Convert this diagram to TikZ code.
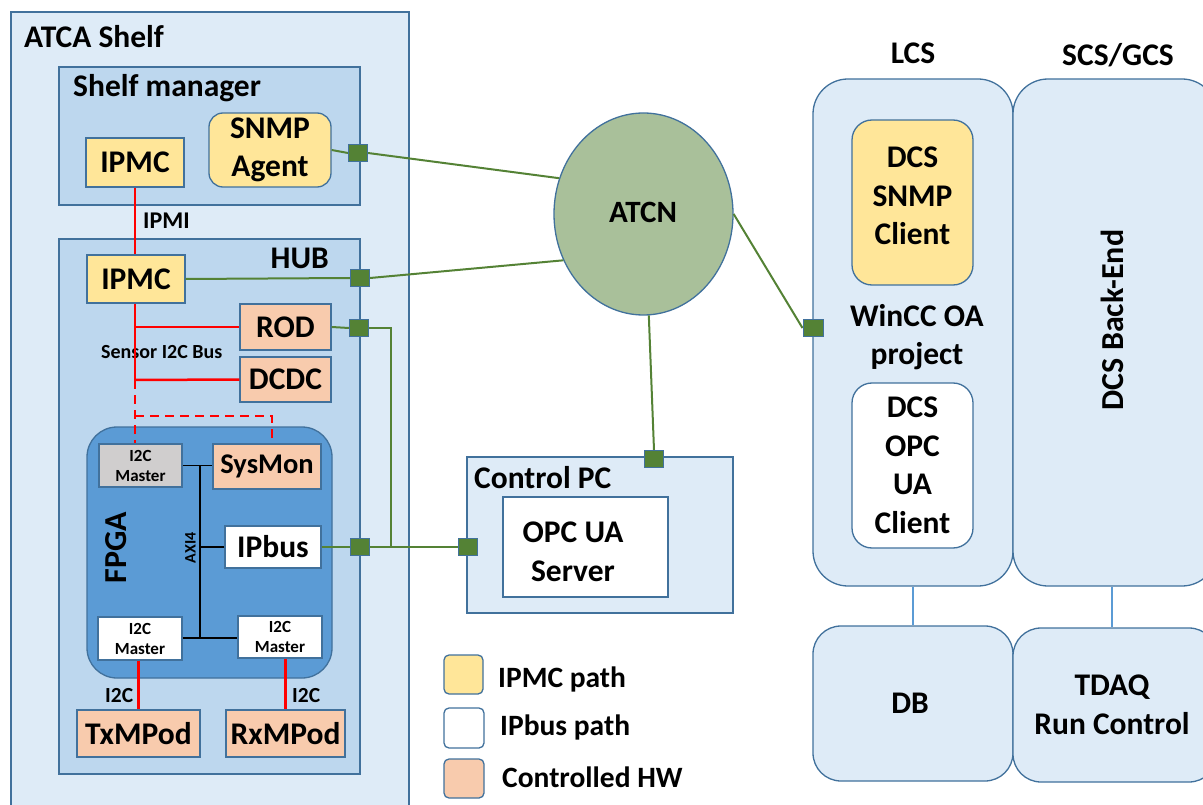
\documentclass[tikz,border=0pt]{standalone}
\usepackage{fontspec}
\setmainfont{Carlito}
\usetikzlibrary{shapes.geometric}
\definecolor{fillA}{HTML}{DEEBF7}
\definecolor{fillB}{HTML}{BDD7EE}
\definecolor{bord}{HTML}{41719C}
\definecolor{ylw}{HTML}{FFE699}
\definecolor{peach}{HTML}{F8CBAD}
\definecolor{fpgablue}{HTML}{5B9BD5}
\definecolor{atcngreen}{HTML}{A9C09A}
\definecolor{netgreen}{HTML}{548235}
\definecolor{greybox}{HTML}{D0CECE}
\definecolor{lightline}{HTML}{5B9BD5}
\pgfdeclarelayer{front}
\pgfsetlayers{main,front}
\tikzset{
  sz/.style 2 args={minimum width=#1pt, minimum height=#2pt},
  bx/.style={draw=bord, line width=1.3pt, inner sep=0pt, align=center,
    font=\fontsize{31.5}{38.5}\selectfont\bfseries},
  lbl/.style={inner sep=0pt, font=\fontsize{31.5}{38.5}\selectfont\bfseries},
  small/.style={bx, font=\fontsize{17}{20}\selectfont\bfseries},
  port/.style={draw=bord, line width=1pt, fill=netgreen, inner sep=0pt, minimum width=19pt, minimum height=17pt},
  net/.style={draw=netgreen, line width=2pt},
  redbus/.style={draw=red, line width=2.5pt},
  axi/.style={draw=black, line width=1.8pt},
  dbline/.style={draw=lightline, line width=2pt}
}
\begin{document}
\begin{tikzpicture}[x=1pt,y=-1pt]
\useasboundingbox (0,0) rectangle (1203,805);
\clip (0,0) rectangle (1203,805);
% ATCA shelf
\node[bx, fill=fillA, sz={398}{803}] (atca) at (210,413.5) {};
\node[lbl, anchor=base west] (atcalbl) at (24,48) {ATCA Shelf};
% Shelf manager
\node[bx, fill=fillB, sz={301}{138}] (shelfmgr) at (209.5,136) {};
\node[lbl, anchor=base west] (shelflbl) at (73,97) {Shelf manager};
\node[bx, fill=ylw, sz={98}{49}] (ipmc1) at (135,162.5) {IPMC};
\node[bx, fill=ylw, sz={122}{74}, rounded corners=14pt] (snmp) at (270,150) {SNMP\\Agent};
% HUB
\node[bx, fill=fillB, sz={301}{535}] (hub) at (209.5,506.5) {};
\node[lbl, anchor=base east] (hublbl) at (329,269) {HUB};
\node[bx, fill=ylw, sz={98}{48}] (ipmc2) at (136,279) {IPMC};
\node[bx, fill=peach, sz={91}{46}] (rod) at (285.5,327) {ROD};
\node[bx, fill=peach, sz={91}{45}] (dcdc) at (285.5,379.5) {DCDC};
\node[lbl, anchor=base west, font=\fontsize{24}{28}\selectfont\bfseries] (ipmilbl) at (143,229) {IPMI};
\node[lbl, anchor=base west, font=\fontsize{20}{24}\selectfont\bfseries] (sensorlbl) at (101,359) {Sensor I2C Bus};
% FPGA
\node[bx, fill=fpgablue, sz={245}{251}, rounded corners=30pt] (fpga) at (209.5,552.5) {};
\node[lbl, rotate=90, font=\fontsize{32}{36}\selectfont\bfseries] (fpgalbl) at (116,547.5) {FPGA};
\node[lbl, rotate=90, font=\fontsize{16}{20}\selectfont\bfseries] (axilbl) at (190.5,548) {AXI4};
\node[small, fill=greybox, sz={83}{43}] (i2cm1) at (140.5,465.5) {I2C\\Master};
\node[bx, fill=peach, sz={108}{45}, font=\fontsize{28.5}{34}\selectfont\bfseries] (sysmon) at (267,466.5) {SysMon};
\node[bx, fill=white, sz={96}{42}] (ipbus) at (273,547) {IPbus};
\node[small, fill=white, sz={84}{43}] (i2cm2) at (140,638.5) {I2C\\Master};
\node[small, fill=white, sz={84}{42}] (i2cm3) at (280,637) {I2C\\Master};
\node[bx, fill=peach, sz={123}{47}] (txmpod) at (138.5,733.5) {TxMPod};
\node[bx, fill=peach, sz={119}{47}] (rxmpod) at (285.5,733.5) {RxMPod};
\node[lbl, anchor=base west, font=\fontsize{21.5}{24}\selectfont\bfseries] (i2clbl1) at (105,702) {I2C};
\node[lbl, anchor=base west, font=\fontsize{21.5}{24}\selectfont\bfseries] (i2clbl2) at (292,702) {I2C};
% ATCN
\node[ellipse, draw=bord, line width=1.3pt, fill=atcngreen, minimum width=179pt, minimum height=202pt, inner sep=0pt] (atcn) at (643.5,214) {};
\node[lbl, font=\fontsize{31}{36}\selectfont\bfseries] (atcnlbl) at (643,212) {ATCN};
% Control PC
\node[bx, fill=fillA, sz={266}{156}] (ctrlpc) at (600,535) {};
\node[lbl, anchor=base west] (ctrllbl) at (474,488) {Control PC};
\node[bx, fill=white, sz={165}{100}] (opcua) at (585.5,547) {};
\node[lbl, align=center] (opcualbl) at (573,552) {OPC UA\\Server};
% LCS / SCS
\node[lbl, anchor=base] (lcslbl) at (913,64) {LCS};
\node[lbl, anchor=base] (scslbl) at (1118,66) {SCS/GCS};
\node[bx, fill=fillA, sz={200}{507}, rounded corners=35pt] (lcs) at (913,332.5) {};
\node[bx, fill=fillA, sz={204}{507}, rounded corners=35pt] (scs) at (1115,332.5) {};
\node[bx, fill=ylw, sz={121}{165}, rounded corners=20pt] (dcssnmp) at (912.5,202.5) {};
\node[lbl, align=center] (dcssnmpl) at (912.5,196) {DCS\\SNMP\\Client};
\node[lbl, align=center] (winccl) at (917,337) {WinCC OA\\project};
\node[bx, fill=white, sz={121}{165}, rounded corners=20pt] (dcsopc) at (912.5,465.5) {DCS\\OPC\\UA\\Client};
\node[lbl, rotate=90, font=\fontsize{32}{36}\selectfont\bfseries] (backend) at (1112,320) {DCS Back-End};
\node[bx, fill=fillA, sz={200}{155}, rounded corners=28pt] (db) at (913,703.5) {};
\node[lbl] (dblbl) at (910,703) {DB};
\node[bx, fill=fillA, sz={204}{154}, rounded corners=28pt] (tdaq) at (1115,705) {};
\node[lbl, align=center] (tdaql) at (1112,705) {TDAQ\\Run Control};
% Legend
\node[bx, fill=ylw, sz={39}{39}, rounded corners=5pt] (leg1) at (463.5,674.5) {};
\node[bx, fill=white, sz={40}{40}, rounded corners=5pt] (leg2) at (464,728) {};
\node[bx, fill=peach, sz={40}{39}, rounded corners=5pt] (leg3) at (464,778.5) {};
\node[lbl, anchor=base west, font=\fontsize{29.5}{34}\selectfont\bfseries] (leg1t) at (498,687) {IPMC path};
\node[lbl, anchor=base west, font=\fontsize{29.5}{34}\selectfont\bfseries] (leg2t) at (500,735) {IPbus path};
\node[lbl, anchor=base west, font=\fontsize{29.5}{34}\selectfont\bfseries] (leg3t) at (502,787) {Controlled HW};
% Ports (front layer)
\begin{pgfonlayer}{front}
\node[port] (port1) at (358,153) {};
\node[port] (port2) at (360,278) {};
\node[port] (port3) at (359,328) {};
\node[port] (port4) at (360,547) {};
\node[port] (port5) at (654,459) {};
\node[port] (port6) at (468,547) {};
\node[port, minimum width=20pt, minimum height=16pt] (port7) at (813,328) {};
\end{pgfonlayer}
% Red buses
\draw[redbus] (ipmc1.south) -- (ipmc1.south |- ipmc2.north);
\coordinate (busB) at (135,380);
\coordinate (busD) at (135,416);
\draw[redbus] (ipmc2.south -| busB) -- (busB);
\draw[redbus] (busB |- rod.west) -- (rod.west);
\draw[redbus] (busB) -- (dcdc.west);
\draw[redbus, dash pattern=on 9pt off 6pt] (busB) -- (busB |- i2cm1.north);
\draw[redbus, dash pattern=on 9pt off 6pt] (busD) -| ([xshift=5pt]sysmon.north);
\draw[redbus] (i2cm2.south -| txmpod.north) -- (txmpod.north);
\draw[redbus] (rxmpod.north |- i2cm3.south) -- (rxmpod.north);
% AXI bus
\coordinate (axT) at (200,466);
\coordinate (axB) at (200,638);
\draw[axi] (i2cm1.east) -- (sysmon.west |- i2cm1.east);
\draw[axi] (axT) -- (axB);
\draw[axi] (axB -| i2cm2.east) -- (axB -| i2cm3.west);
\draw[axi] (ipbus.west) -- (ipbus.west -| axT);
% Network lines
\coordinate (jTop) at (391,328);
\coordinate (jBot) at (391,547);
\draw[net] (snmp.east) -- (port1.west);
\draw[net] (port1.east) -- (atcn.157);
\draw[net] (ipmc2.east) -- (port2.west);
\draw[net] (port2.east) -- (atcn.210);
\draw[net] (rod.east) -- (port3.west);
\draw[net] (port3.east) -- (jTop) -- (jBot);
\draw[net] (ipbus.east) -- (port4.west);
\draw[net] (port4.east) -- (port6.west);
\draw[net] (atcn.273) -- (port5.north);
\draw[net] (atcn.east) -- (port7.west);
% DB links
\draw[dbline] (lcs.south) -- (db.north);
\draw[dbline] (tdaql.north |- scs.south) -- (tdaql.north |- tdaq.north);
\end{tikzpicture}
\end{document}
